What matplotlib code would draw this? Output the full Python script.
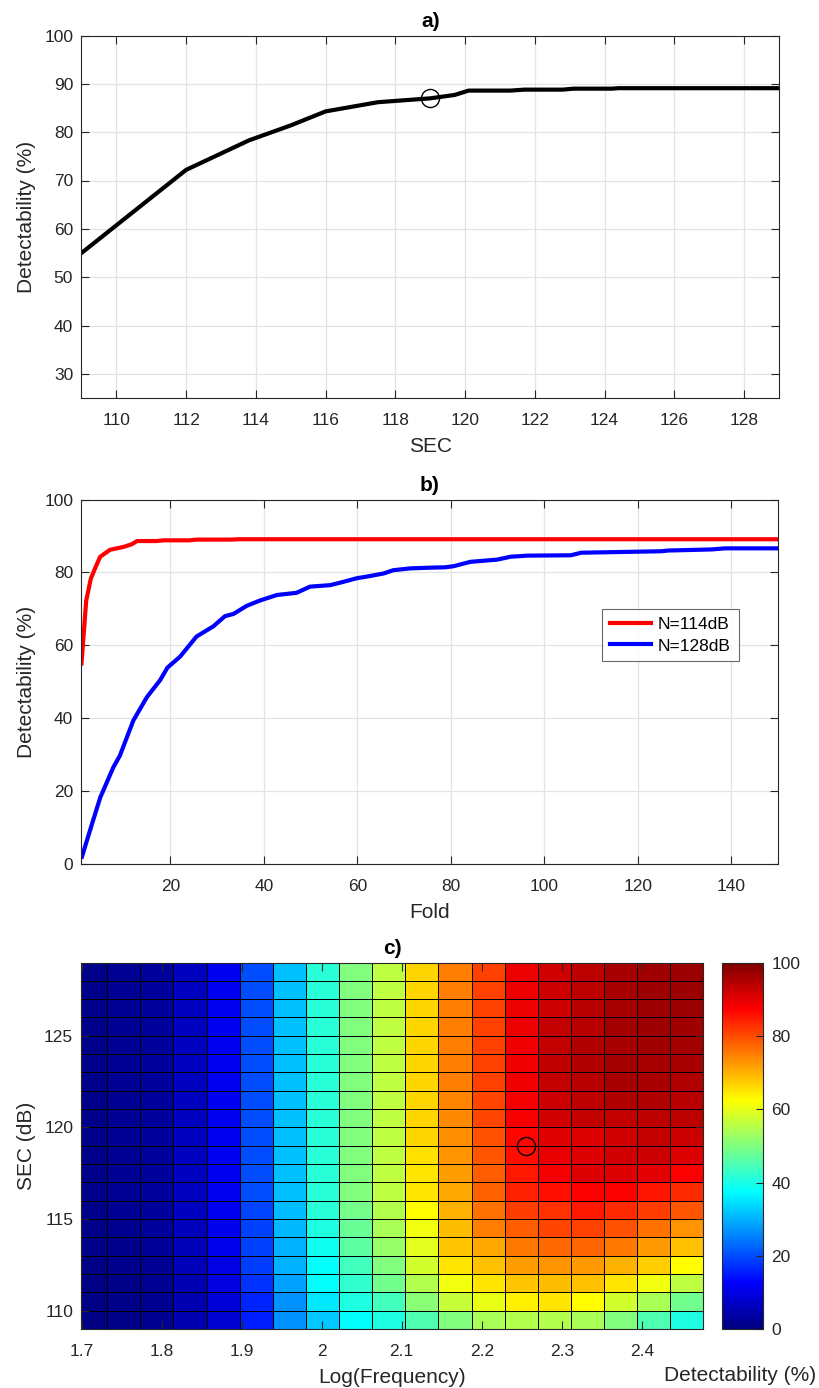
import numpy as np
import matplotlib
matplotlib.use("Agg")
import matplotlib.pyplot as plt
from matplotlib.colors import LinearSegmentedColormap

plt.rcParams['font.family'] = ['Liberation Sans', 'DejaVu Sans']
plt.rcParams['font.size'] = 12.5
TXT = '#262626'
GRID = '#e3e3e3'
LABEL_FS = 15
TICK_FS = 12.5
TITLE_FS = 15

# ---- a) detectability versus SEC at the 180 Hz band ----
sec_a = [109, 112, 113.8, 115, 116, 117.5, 119, 119.7, 120.1, 121.3, 121.7,
         122.8, 123.1, 124.2, 124.4, 129]
det_a = [55.0, 72.2, 78.3, 81.4, 84.3, 86.2, 87.0, 87.7, 88.6, 88.6, 88.8,
         88.8, 89.0, 89.0, 89.1, 89.1]
mark_sec, mark_det = 119, 87.0

# ---- b) detectability versus fold ----
fold_114 = [1, 2, 3.0, 4.0, 5.0, 7.1, 10, 11.7, 12.9, 17, 18.6, 24, 25.7, 33, 34.7, 150]
det_114 = [55.0, 72.2, 78.3, 81.4, 84.3, 86.2, 87.0, 87.7, 88.6, 88.6, 88.8,
           88.8, 89.0, 89.0, 89.1, 89.1]
fold_128 = [1.1, 3.2, 5.0, 7.8, 9.2, 12.1, 15.0, 17.8, 19.4, 22.1, 25.6, 29.2,
            31.7, 33.5, 36.3, 39.2, 42.8, 47.0, 49.9, 54.2, 57.0, 59.9, 62.7,
            65.6, 67.7, 71.3, 75.6, 78.8, 80.6, 84.2, 89.9, 92.8, 96.4, 105.7,
            107.9, 116.4, 125.0, 126.5, 135.8, 138.7, 150]
det_128 = [2.0, 10.8, 18.2, 26.5, 29.7, 39.4, 45.8, 50.4, 53.9, 56.9, 62.4, 65.2,
           68.0, 68.6, 70.8, 72.3, 73.8, 74.4, 76.1, 76.5, 77.4, 78.4, 79.0,
           79.7, 80.6, 81.1, 81.3, 81.4, 81.7, 82.9, 83.5, 84.3, 84.6, 84.7,
           85.4, 85.6, 85.8, 86.0, 86.3, 86.6, 86.6]

# ---- c) detectability map: log-frequency bands x SEC (dB) ----
logf_edges = [1.6907, 1.7321, 1.7735, 1.8149, 1.8563, 1.8977, 1.9390, 1.9804,
              2.0218, 2.0632, 2.1046, 2.1460, 2.1874, 2.2288, 2.2702, 2.3116,
              2.3529, 2.3943, 2.4357, 2.4771]
sec_edges = [109, 110, 111, 112, 113, 114, 115, 116, 117, 118, 119, 120, 121,
             122, 123, 124, 125, 126, 127, 128, 129]
# rows listed from SEC 128 (top) down to SEC 109 (bottom)
det_rows = [
    [1.0, 2.0, 3.1, 6.3, 11.0, 20.0, 31.3, 41.7, 50.0, 56.0, 66.5, 75.0, 81.0, 89.1, 92.0, 94.0, 95.8, 96.8, 97.2],
    [1.0, 2.0, 3.1, 6.3, 11.0, 20.0, 31.3, 41.7, 50.0, 56.0, 66.5, 75.0, 81.0, 89.1, 92.5, 94.0, 96.0, 97.2, 97.2],
    [1.0, 2.0, 3.1, 6.3, 11.0, 20.0, 31.3, 41.7, 50.0, 56.0, 66.5, 75.0, 81.0, 89.1, 92.5, 94.3, 96.0, 97.2, 97.2],
    [1.0, 2.0, 3.1, 6.3, 11.0, 20.0, 31.3, 41.7, 50.0, 56.0, 66.5, 75.0, 81.0, 89.1, 93.0, 94.5, 96.4, 97.2, 96.8],
    [1.0, 2.0, 3.1, 6.3, 11.0, 20.0, 31.3, 41.7, 50.0, 56.0, 66.5, 75.0, 81.0, 89.0, 93.0, 95.0, 96.0, 96.8, 96.4],
    [1.0, 2.0, 3.1, 6.3, 11.0, 20.0, 31.3, 41.7, 50.0, 56.0, 66.5, 75.0, 81.0, 89.0, 93.5, 95.0, 96.4, 96.0, 96.0],
    [1.0, 2.0, 3.1, 6.3, 11.0, 20.0, 31.3, 41.7, 50.0, 56.0, 66.5, 75.0, 81.0, 88.8, 93.0, 94.5, 95.8, 95.8, 95.2],
    [1.0, 2.0, 3.1, 6.3, 11.0, 20.0, 31.3, 41.7, 50.0, 56.0, 66.5, 74.5, 80.8, 88.6, 92.5, 94.0, 95.0, 95.0, 94.5],
    [1.0, 2.0, 3.1, 6.3, 11.0, 20.0, 31.3, 41.7, 50.0, 56.0, 66.5, 74.2, 80.5, 88.0, 92.0, 93.0, 93.0, 94.0, 94.0],
    [1.0, 2.0, 3.1, 6.3, 11.0, 20.0, 31.3, 41.7, 50.0, 56.0, 66.5, 73.5, 79.5, 87.0, 90.5, 91.0, 92.0, 93.0, 92.5],
    [1.0, 2.0, 3.1, 6.3, 11.0, 20.0, 31.3, 41.7, 50.0, 56.0, 65.5, 73.0, 79.0, 86.0, 89.5, 91.0, 92.0, 92.5, 91.0],
    [1.0, 2.0, 3.1, 6.3, 11.0, 20.0, 31.3, 41.7, 50.0, 56.0, 65.0, 72.0, 78.5, 85.0, 88.5, 91.0, 91.0, 90.0, 87.5],
    [1.0, 2.0, 3.1, 6.3, 11.0, 20.0, 31.3, 41.7, 50.0, 56.0, 65.0, 71.0, 78.0, 84.0, 86.0, 87.5, 87.5, 85.5, 83.5],
    [1.0, 2.0, 3.1, 6.3, 11.0, 19.5, 31.0, 41.7, 49.0, 55.0, 62.5, 70.0, 76.5, 81.5, 82.5, 85.0, 83.5, 81.5, 79.0],
    [0.8, 1.8, 3.0, 6.0, 10.8, 19.0, 30.5, 40.6, 48.0, 54.0, 61.0, 69.0, 75.0, 78.3, 80.5, 81.0, 79.5, 76.5, 73.0],
    [0.8, 1.5, 2.5, 5.8, 10.6, 18.8, 29.8, 39.0, 46.5, 52.0, 59.5, 68.0, 71.0, 75.5, 77.0, 77.5, 75.5, 72.5, 68.5],
    [0.6, 1.2, 2.2, 5.5, 10.0, 18.5, 29.8, 37.5, 44.0, 50.0, 58.0, 65.0, 68.5, 72.0, 73.0, 72.5, 70.0, 67.5, 62.5],
    [0.5, 1.0, 2.0, 5.2, 9.5, 17.2, 28.2, 37.5, 42.5, 48.5, 55.0, 61.0, 65.0, 68.0, 69.0, 68.5, 65.0, 61.0, 56.0],
    [0.5, 1.0, 1.8, 5.0, 8.8, 16.4, 26.6, 35.2, 40.5, 44.0, 51.0, 57.0, 60.5, 64.0, 65.0, 62.5, 58.0, 54.0, 48.5],
    [0.5, 1.0, 1.8, 4.7, 8.0, 15.6, 26.6, 32.1, 37.5, 40.5, 45.0, 50.0, 54.0, 55.0, 55.0, 54.0, 50.0, 45.0, 40.5],
]
mark_logf, mark_sec_c = 2.2553, 119

# MATLAB-style jet colormap
jet = LinearSegmentedColormap.from_list(
    'jet_ml', [(0.0, (0.0, 0.0, 0.5)), (0.125, (0.0, 0.0, 1.0)),
               (0.375, (0.0, 1.0, 1.0)), (0.625, (1.0, 1.0, 0.0)),
               (0.875, (1.0, 0.0, 0.0)), (1.0, (0.5, 0.0, 0.0))], N=256)

W, H = 820, 1388
fig = plt.figure(figsize=(W / 100, H / 100), dpi=100)


def px_axes(left, top, right, bottom):
    return fig.add_axes([left / W, 1 - bottom / H, (right - left) / W, (bottom - top) / H])


def style(ax, grid=True):
    for s in ax.spines.values():
        s.set_color(TXT)
        s.set_linewidth(0.8)
    ax.tick_params(direction='in', top=True, right=True, length=6, width=0.8,
                   color=TXT, labelcolor=TXT, labelsize=TICK_FS)
    ax.tick_params(axis='x', pad=11)
    ax.tick_params(axis='y', pad=6)
    if grid:
        ax.grid(True, color=GRID, linewidth=0.9)
        ax.set_axisbelow(True)


def labels(ax, xl, yl, title):
    ax.set_xlabel(xl, color=TXT, fontsize=LABEL_FS, labelpad=6)
    ax.set_ylabel(yl, color=TXT, fontsize=LABEL_FS, labelpad=6)
    ax.set_title(title, fontweight='bold', color='k', fontsize=TITLE_FS, pad=6)


# a)
ax1 = px_axes(81.5, 35.5, 779, 398)
style(ax1)
ax1.plot(sec_a, det_a, color='k', linewidth=3)
ax1.plot([mark_sec], [mark_det], 'o', mfc='none', mec='k', ms=13, mew=1.0)
ax1.set_xlim(109, 129)
ax1.set_ylim(25, 100)
ax1.set_xticks(np.arange(110, 129, 2))
ax1.set_yticks(np.arange(30, 101, 10))
labels(ax1, 'SEC', 'Detectability (%)', 'a)')

# b)
ax2 = px_axes(81.5, 499.5, 778, 864)
style(ax2)
ax2.plot(fold_114, det_114, color='#ff0000', linewidth=3, label='N=114dB')
ax2.plot(fold_128, det_128, color='#0000ff', linewidth=3, label='N=128dB')
ax2.set_xlim(1, 150)
ax2.set_ylim(0, 100)
ax2.set_xticks(np.arange(20, 141, 20))
ax2.set_yticks(np.arange(0, 101, 20))
labels(ax2, 'Fold', 'Detectability (%)', 'b)')
leg = ax2.legend(loc='upper left', bbox_to_anchor=(0.747, 0.700), fontsize=12.5,
                 frameon=True, fancybox=False, edgecolor='#444444',
                 handlelength=2.4, handletextpad=0.38, borderpad=0.45,
                 labelspacing=0.38, borderaxespad=0)
leg.get_frame().set_linewidth(0.8)
for t in leg.get_texts():
    t.set_color('k')

# c)
ax3 = px_axes(81.5, 962.5, 703.5, 1329)
style(ax3, grid=False)
grid_vals = np.array(det_rows)[::-1]
mesh = ax3.pcolormesh(logf_edges, sec_edges, grid_vals, cmap=jet, vmin=0, vmax=100,
                      edgecolors='k', linewidth=0.6)
ax3.plot([mark_logf], [mark_sec_c], 'o', mfc='none', mec='k', ms=13, mew=1.0)
ax3.set_xlim(1.7, logf_edges[-1])
ax3.set_ylim(109, 129)
ax3.set_xticks(np.arange(1.7, 2.45, 0.1))
ax3.set_xticklabels(['1.7', '1.8', '1.9', '2', '2.1', '2.2', '2.3', '2.4'])
ax3.set_yticks([110, 115, 120, 125])
labels(ax3, 'Log(Frequency)', 'SEC (dB)', 'c)')

cax = px_axes(722, 963, 763, 1329)
cb = fig.colorbar(mesh, cax=cax)
cb.set_ticks([0, 20, 40, 60, 80, 100])
cb.outline.set_edgecolor(TXT)
cb.outline.set_linewidth(0.8)
cax.tick_params(direction='in', length=5, width=0.8, color=TXT, labelcolor=TXT,
                labelsize=TICK_FS, pad=6)
fig.text(740 / W, 1 - 1381 / H, 'Detectability (%)', ha='center', va='baseline',
         color=TXT, fontsize=LABEL_FS)

fig.savefig('out.png', dpi=100)
